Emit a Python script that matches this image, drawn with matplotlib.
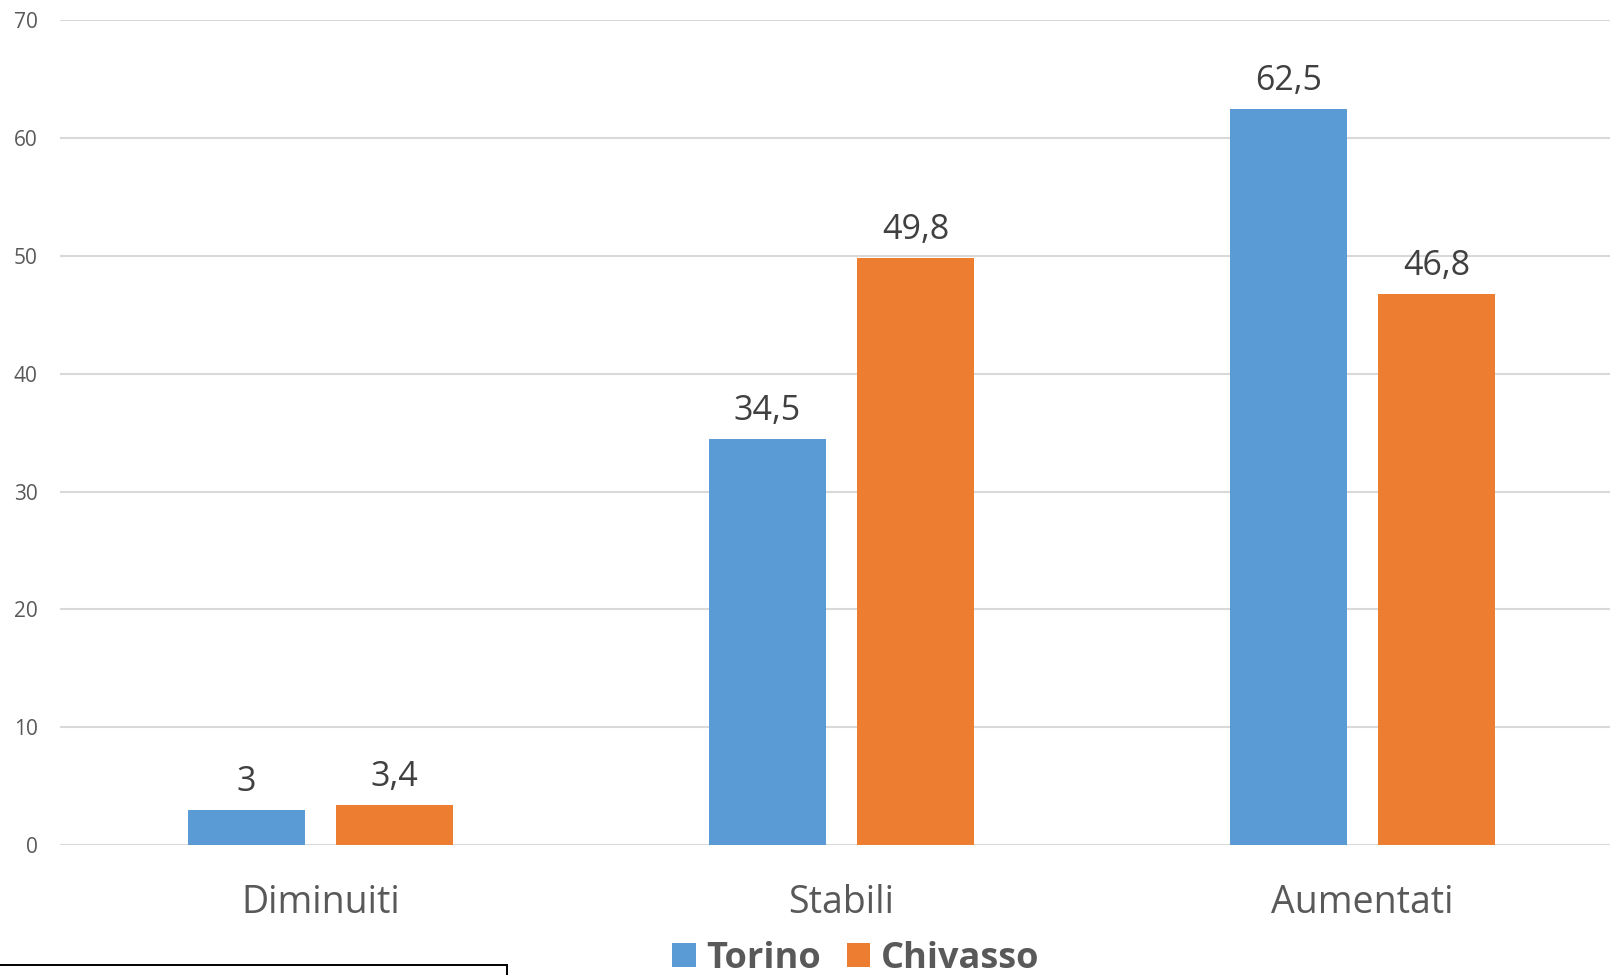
"""Torino vs Chivasso: share of diminuiti / stabili / aumentati."""

import matplotlib.pyplot as plt
import numpy as np
from matplotlib.patches import Rectangle

plt.rcParams["font.family"] = ["Open Sans", "DejaVu Sans"]

# Data
categories = ["Diminuiti", "Stabili", "Aumentati"]
torino = [3, 34.5, 62.5]
chivasso = [3.4, 49.8, 46.8]
yticks = [0, 10, 20, 30, 40, 50, 60, 70]

blue = "#5B9BD5"
orange = "#ED7D31"


def fmt(v):
    # Italian decimal comma, no trailing ",0"
    s = f"{v:g}"
    return s.replace(".", ",")


fig = plt.figure(figsize=(16.1, 9.75), dpi=100)
ax = fig.add_axes([0.0373, 0.1333, 0.9708, 0.8457])

x = np.arange(len(categories))
width = 0.225
offset = 0.1425

bars_t = ax.bar(x - offset, torino, width, color=blue, label="Torino", zorder=3)
bars_c = ax.bar(x + offset, chivasso, width, color=orange, label="Chivasso", zorder=3)

for bars, vals in [(bars_t, torino), (bars_c, chivasso)]:
    for b, v in zip(bars, vals):
        ax.annotate(fmt(v), (b.get_x() + b.get_width() / 2, b.get_height()),
                    xytext=(0, 8), textcoords="offset points",
                    ha="center", va="bottom", fontsize=24.5, color="#404040")

ax.set_xlim(-0.5, 2.5)
ax.set_ylim(0, 70)
ax.set_yticks(yticks)
ax.set_yticklabels([str(t) for t in yticks])
ax.set_xticks(x)
ax.set_xticklabels(categories)

ax.yaxis.grid(True, color="#D9D9D9", linewidth=1.5, zorder=0)
ax.set_axisbelow(True)
for s in ax.spines.values():
    s.set_visible(False)

ax.tick_params(axis="y", length=0, pad=16, labelsize=15, labelcolor="#595959")
ax.tick_params(axis="x", length=0, pad=28, labelsize=27, labelcolor="#595959")

leg = fig.legend(loc="center", bbox_to_anchor=(856 / 1610, 1 - 959 / 975),
                 ncol=2, frameon=False, handlelength=0.65, handleheight=0.65,
                 handletextpad=0.3, columnspacing=0.7,
                 prop={"size": 26, "weight": "bold"})
for t in leg.get_texts():
    t.set_color("#595959")

# stray text box outline at the bottom left
fig.patches.append(Rectangle((-0.01, -0.1), 507 / 1610 + 0.01, 0.1 + 1 - 965 / 975,
                             transform=fig.transFigure, fill=False,
                             edgecolor="black", linewidth=1.4))

plt.savefig("out.png", dpi=100)
